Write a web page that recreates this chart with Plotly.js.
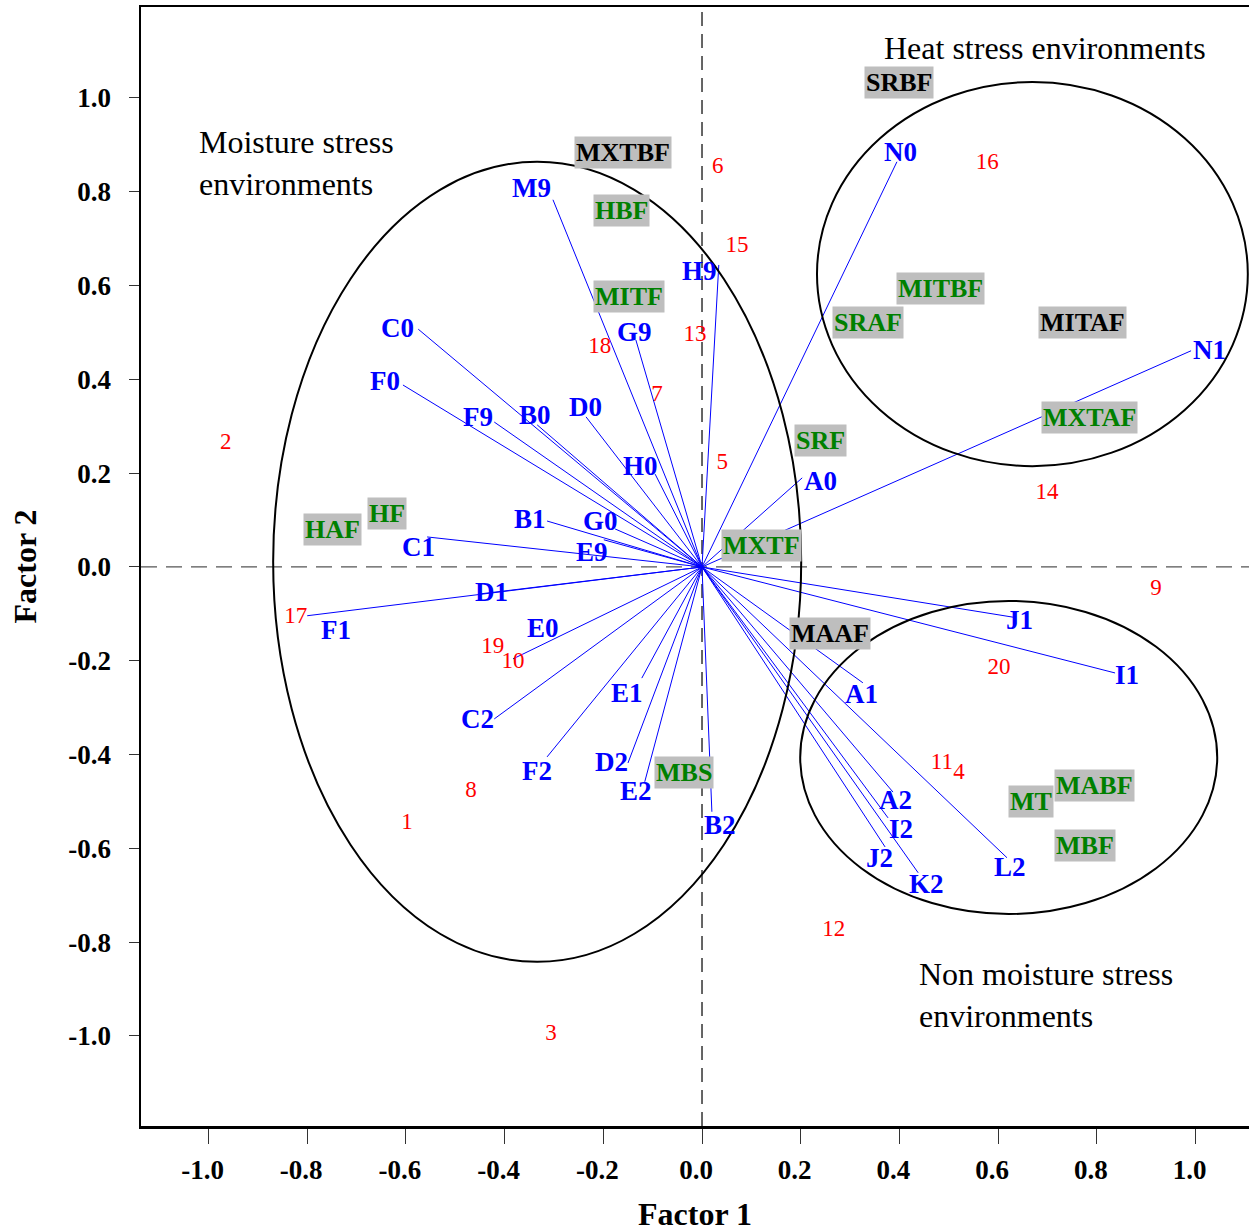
<!DOCTYPE html>
<html><head><meta charset="utf-8">
<script src="https://cdn.plot.ly/plotly-3.0.1.min.js"></script>
<style>html,body{margin:0;padding:0;background:#fff;overflow:hidden}#chart{width:1249px;height:1232px}</style>
</head><body><div id="chart"></div>
<script>
// ---- Variable loadings (blue vectors) ----
const varNames = ['M9','H9','N0','C0','F0','F9','B0','D0','G9','H0','B1','G0','E9','C1','D1','F1','E0','C2','F2','E1','D2','E2','B2','A1','A2','I2','J2','K2','L2','J1','I1','A0','N1'];
const varX = [-0.302,0.034,0.395,-0.575,-0.606,-0.421,-0.334,-0.235,-0.134,-0.095,-0.314,-0.176,-0.199,-0.557,-0.454,-0.800,-0.383,-0.421,-0.314,-0.122,-0.150,-0.116,0.020,0.326,0.387,0.377,0.371,0.438,0.618,0.630,0.837,0.203,0.991];
const varY = [0.783,0.644,0.864,0.507,0.388,0.309,0.303,0.320,0.484,0.198,0.098,0.081,0.058,0.064,-0.058,-0.104,-0.196,-0.324,-0.405,-0.237,-0.418,-0.458,-0.522,-0.247,-0.480,-0.535,-0.597,-0.652,-0.620,-0.107,-0.226,0.190,0.461];

// ---- Genotype scores (red numbers) ----
const genoNames = ['1','2','3','4','5','6','7','8','9','10','11','12','13','14','15','16','17','18','19','20'];
const genoX = [-0.598,-0.965,-0.306,0.521,0.041,0.032,-0.091,-0.468,0.920,-0.383,0.486,0.267,-0.014,0.699,0.071,0.578,-0.823,-0.207,-0.424,0.602];
const genoY = [-0.546,0.264,-0.996,-0.439,0.222,0.853,0.367,-0.478,-0.047,-0.203,-0.418,-0.774,0.495,0.158,0.684,0.861,-0.107,0.469,-0.171,-0.215];

// ---- Environment labels (grey boxes) ----
const envNames = ['SRBF','MXTBF','HBF','MITF','MITBF','SRAF','MITAF','MXTAF','SRF','HF','HAF','MXTF','MAAF','MBS','MT','MABF','MBF'];
const envX = [0.399,-0.160,-0.164,-0.148,0.484,0.336,0.770,0.786,0.241,-0.638,-0.748,0.120,0.259,-0.036,0.667,0.796,0.776];
const envY = [1.034,0.883,0.761,0.576,0.593,0.522,0.522,0.318,0.269,0.113,0.079,0.045,-0.141,-0.439,-0.501,-0.467,-0.593];
const envBlack = ['SRBF','MXTBF','MITAF','MAAF'];

// ---- Group ellipses and their captions ----
const groupNames = ['Moisture stress<br>environments','Heat stress environments','Non moisture stress<br>environments'];
const ellX0 = [-0.869, 0.233, 0.199];
const ellX1 = [0.201, 1.106, 1.044];
const ellY0 = [-0.842, 0.215, -0.740];
const ellY1 = [0.864, 1.034, -0.0725];
const captionX = [-1.023, 0.695, 0.436];
const captionY = [0.861, 1.107, -0.913];

// ---- Axis ticks ----
const xTickVals = [-1.0,-0.8,-0.6,-0.4,-0.2,0.0,0.2,0.4,0.6,0.8,1.0];
const xTickText = ['-1.0','-0.8','-0.6','-0.4','-0.2','0.0','0.2','0.4','0.6','0.8','1.0'];
const yTickVals = [-1.0,-0.8,-0.6,-0.4,-0.2,0.0,0.2,0.4,0.6,0.8,1.0];
const yTickText = ['-1.0','-0.8','-0.6','-0.4','-0.2','0.0','0.2','0.4','0.6','0.8','1.0'];

// ---- styles ----
const FONT = 'Liberation Serif, Times New Roman, serif';
const labelShift = {M9:[-21,-12],H9:[-19,6],N0:[4,-10],C0:[-21,-1],F0:[-18,-4],F9:[-16,-5],B0:[-2,-10],D0:[-1,-10],G9:[-1,-8],H0:[-15,-8],B1:[-17,-2],G0:[-15,-8],E9:[-12,12],C1:[-9,10],D1:[14,-2],F1:[29,14],E0:[30,-31],C2:[-17,0],F2:[-10,14],E1:[-15,15],D2:[-16,-1],E2:[-9,9],B2:[8,13],A1:[-1,11],A2:[3,8],I2:[13,11],J2:[-6,11],K2:[8,11],L2:[3,9],J1:[7,3],I1:[12,2],A0:[18,3],N1:[18,-1]};

const lx = [], ly = [];
varNames.forEach((n,i)=>{ lx.push(0, varX[i], null); ly.push(0, varY[i], null); });

const traces = [
  {type:'scatter', mode:'lines', x:lx, y:ly, line:{color:'#0000ff', width:1}, hoverinfo:'skip', showlegend:false},
  {type:'scatter', mode:'text', x:genoX, y:genoY, text:genoNames, textposition:'middle center',
   textfont:{family:FONT, size:23, color:'#ff0000'}, hoverinfo:'skip', showlegend:false}
];

const annotations = [];
varNames.forEach((n,i)=>{
  const s = labelShift[n] || [0,0];
  annotations.push({x:varX[i], y:varY[i], text:n, showarrow:false, xanchor:'center', yanchor:'middle',
    xshift:s[0], yshift:-s[1], font:{family:FONT, size:27, color:'#0000ff', weight:'bold'}});
});
envNames.forEach((n,i)=>{
  annotations.push({x:envX[i], y:envY[i], text:n, showarrow:false, xanchor:'center', yanchor:'middle',
    bgcolor:'#bebebe', borderpad:1,
    font:{family:FONT, size:26, color: envBlack.includes(n) ? '#000000' : '#008000', weight:'bold'}});
});
groupNames.forEach((n,i)=>{
  annotations.push({x:captionX[i], y:captionY[i], text:n, showarrow:false,
    xanchor: i===1 ? 'center' : 'left', align:'left', yanchor:'middle',
    font:{family:FONT, size:32, color:'#000000'}});
});

const shapes = [
  {type:'line', xref:'paper', yref:'y', x0:0, x1:1, y0:0, y1:0, line:{color:'#555555', width:1.3, dash:'16px,9px'}, layer:'below'},
  {type:'line', xref:'x', yref:'paper', x0:0, x1:0, y0:0, y1:1, line:{color:'#000000', width:1.2, dash:'14px,8px'}, layer:'below'}
];
ellX0.forEach((v,i)=>{
  shapes.push({type:'circle', xref:'x', yref:'y', x0:ellX0[i], x1:ellX1[i], y0:ellY0[i], y1:ellY1[i],
    line:{color:'#000000', width:2}, fillcolor:'rgba(0,0,0,0)', layer:'above'});
});

const layout = {
  width:1249, height:1232,
  margin:{l:141, r:0, t:7, b:106},
  paper_bgcolor:'#ffffff', plot_bgcolor:'#ffffff',
  showlegend:false,
  xaxis:{range:[-1.1368,1.1084], tickvals:xTickVals, ticktext:xTickText, showgrid:false, zeroline:false,
    showline:true, mirror:true, linecolor:'#000000', linewidth:2.5,
    ticks:'outside', ticklen:15, tickwidth:1, tickcolor:'#333333', ticklabelstandoff:3, ticklabelshift:-6,
    tickfont:{family:FONT, size:27, color:'#000000', weight:'bold'},
    title:{text:'Factor 1', standoff:20, font:{family:FONT, size:32, color:'#000000', weight:'bold'}},
    automargin:false},
  yaxis:{range:[-1.192,1.194], tickvals:yTickVals, ticktext:yTickText, showgrid:false, zeroline:false,
    showline:true, mirror:false, linecolor:'#000000', linewidth:2.5,
    ticks:'outside', ticklen:10, tickwidth:1, tickcolor:'#333333', ticklabelstandoff:12,
    tickfont:{family:FONT, size:27, color:'#000000', weight:'bold'},
    title:{text:'Factor 2', standoff:22, font:{family:FONT, size:32, color:'#000000', weight:'bold'}},
    automargin:false},
  annotations:annotations,
  shapes:shapes,
  hovermode:false
};

Plotly.newPlot('chart', traces, layout, {staticPlot:true, displayModeBar:false});
</script>
</body></html>
